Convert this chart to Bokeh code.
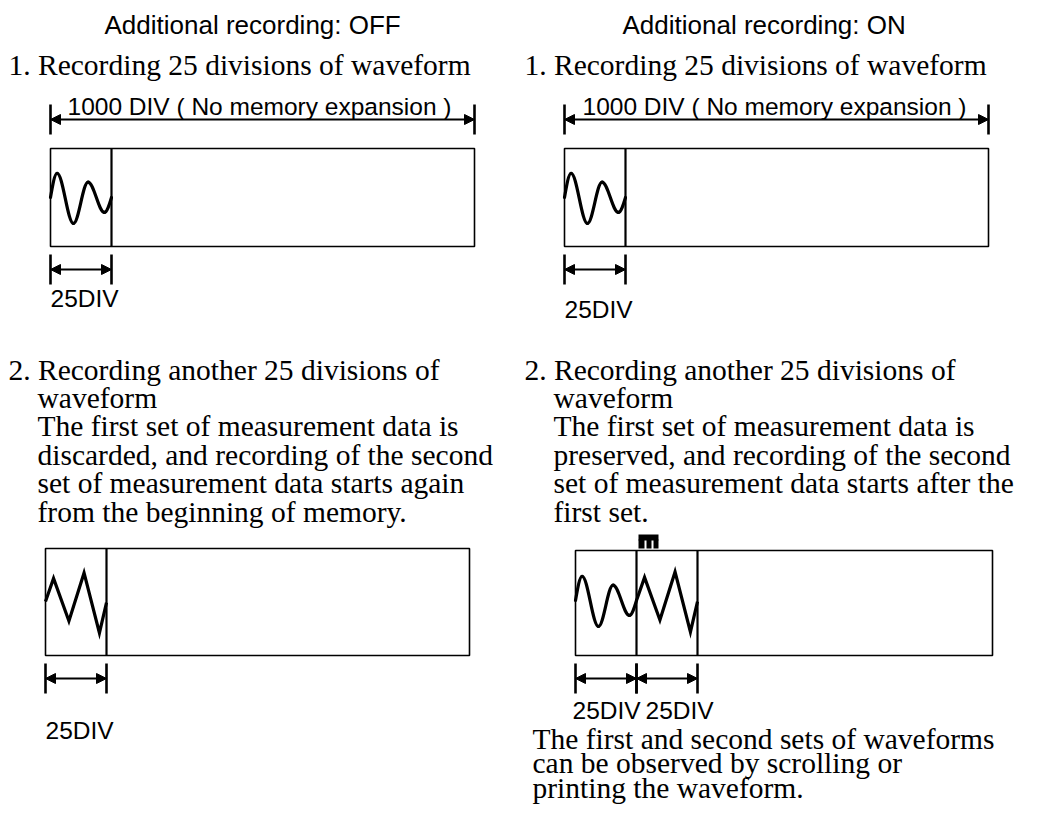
from bokeh.plotting import figure
from bokeh.models import Range1d, Arrow, NormalHead
from bokeh.core.properties import value
from bokeh.embed import file_html
from bokeh.resources import INLINE

# ---------------- data (texts and waveform shapes) ----------------
headers = ["Additional recording: OFF", "Additional recording: ON"]
step1_title = "1. Recording 25 divisions of waveform"
span_label = "1000 DIV ( No memory expansion )"
seg_label = "25DIV"
step2_title = "2. Recording another 25 divisions of"
step2_body_off = ["waveform",
                  "The first set of measurement data is",
                  "discarded, and recording of the second",
                  "set of measurement data starts again",
                  "from the beginning of memory."]
step2_body_on = ["waveform",
                 "The first set of measurement data is",
                 "preserved, and recording of the second",
                 "set of measurement data starts after the",
                 "first set."]
note_on = ["The first and second sets of waveforms",
           "can be observed by scrolling or",
           "printing the waveform."]

# waveform turning points: position inside the 25-DIV segment and amplitude
sine_div = [0, 2.7, 9.4, 15.4, 22.1, 25]
sine_amp = [0, 1.1, -1.18, 0.7, -0.68, 0]
saw_div = [0, 3.3, 9.6, 15.8, 22.1, 25]
saw_amp = [0, 1.05, -0.89, 1.3, -1.43, -0.05]
SEG_DIV = 25

# ---------------- figure in page-pixel coordinates ----------------
W, H = 1025, 805
OX, OY = 8, 8
p = figure(frame_width=W, frame_height=H, x_range=Range1d(OX, OX + W), y_range=Range1d(OY + H, OY),
           x_axis_location=None, y_axis_location=None, toolbar_location=None, title=None,
           output_backend="svg", min_border=0, outline_line_color=None)
p.grid.visible = False
p.background_fill_color = "white"
p.border_fill_color = "white"

SERIF = value("Liberation Serif")
SANS = value("Liberation Sans")
SERIF_PX = 29.5
HEAD_PX = 26
SANS_PX = 24.5
LINE = 28.4
SEG_PX = 61.0          # drawn width of one 25-DIV segment
AMP_PX = 22.0


def txt(xs, ys, texts, font, size):
    p.text(x=xs, y=ys, text=texts, text_font=font, text_font_size=value(f"{size}px"),
           text_baseline="alphabetic", text_align="left", text_color="black")


def box(x0, x1, y0, y1):
    p.quad(left=[x0], right=[x1], top=[y0], bottom=[y1], fill_color=None,
           line_color="black", line_width=1.6)


def vline(xs, y0, y1, w=2.2):
    p.segment(x0=xs, y0=[y0] * len(xs), x1=xs, y1=[y1] * len(xs),
              line_color="black", line_width=w)


def dim_arrow(xa, xb, y, half=15):
    vline([xa, xb], y - half, y + half, w=2.6)
    p.add_layout(Arrow(x_start=xa, y_start=y, x_end=xb, y_end=y, line_width=2.2,
                       line_color="black",
                       start=NormalHead(size=10, fill_color="black", line_color="black", line_width=1),
                       end=NormalHead(size=10, fill_color="black", line_color="black", line_width=1)))


def smooth_wave(x0, ymid, divs, amps):
    xs = [x0 + d / SEG_DIV * SEG_PX for d in divs]
    ys = [ymid - a * AMP_PX for a in amps]
    n = len(xs) - 1
    X0, Y0, X1, Y1, C0X, C0Y, C1X, C1Y = [], [], [], [], [], [], [], []
    for i in range(n):
        xa, ya, xb, yb = xs[i], ys[i], xs[i + 1], ys[i + 1]
        dx, dy = xb - xa, yb - ya
        if i == 0:
            c0 = (xa + 0.33 * dx, ya + 0.52 * dy)
            c1 = (xb - 0.35 * dx, yb)
        elif i == n - 1:
            c0 = (xa + 0.35 * dx, ya)
            c1 = (xb - 0.33 * dx, yb - 0.52 * dy)
        else:
            c0 = (xa + 0.36 * dx, ya)
            c1 = (xb - 0.36 * dx, yb)
        X0.append(xa); Y0.append(ya); X1.append(xb); Y1.append(yb)
        C0X.append(c0[0]); C0Y.append(c0[1]); C1X.append(c1[0]); C1Y.append(c1[1])
    p.bezier(x0=X0, y0=Y0, x1=X1, y1=Y1, cx0=C0X, cy0=C0Y, cx1=C1X, cy1=C1Y,
             line_color="black", line_width=3.2, line_cap="round")


def saw_wave(x0, ymid, divs, amps):
    xs = [x0 + d / SEG_DIV * SEG_PX for d in divs]
    ys = [ymid - a * AMP_PX for a in amps]
    p.line(xs, ys, line_color="black", line_width=3.2, line_join="miter")


# ---------------- headers and step 1 ----------------
txt([112, 630], [32, 32], headers, SANS, HEAD_PX)
txt([16, 532], [72, 72], [step1_title] * 2, SERIF, SERIF_PX)
txt([75, 590], [114, 114], [span_label] * 2, SANS, SANS_PX)

for xa, xb in [(58, 482), (572, 996)]:
    dim_arrow(xa, xb, 127)

for xl, xr in [(58, 482), (572, 996)]:
    box(xl, xr, 156, 254)
    vline([xl + SEG_PX], 156, 254)
    smooth_wave(xl, 205, sine_div, sine_amp)
    dim_arrow(xl, xl + SEG_PX, 277)

txt([58, 572], [306, 317], [seg_label] * 2, SANS, SANS_PX)

# ---------------- step 2 ----------------
txt([16, 532], [377, 377], [step2_title] * 2, SERIF, SERIF_PX)
body_y = [377 + LINE * (i + 1) for i in range(len(step2_body_off))]
txt([45] * len(step2_body_off), body_y, step2_body_off, SERIF, SERIF_PX)
txt([561] * len(step2_body_on), body_y, step2_body_on, SERIF, SERIF_PX)

# OFF: memory restarts from the beginning
box(53, 477, 556, 663)
vline([53 + SEG_PX], 556, 663)
saw_wave(53, 609, saw_div, saw_amp)
dim_arrow(53, 53 + SEG_PX, 686)
txt([53], [738], [seg_label], SANS, SANS_PX)

# ON: second set appended after the first
xr0 = 583
box(xr0, 1000, 558, 663)
vline([xr0 + SEG_PX, xr0 + 2 * SEG_PX], 558, 663)
smooth_wave(xr0, 608, sine_div, sine_amp)
saw_wave(xr0 + SEG_PX, 608, saw_div, saw_amp)
dim_arrow(xr0, xr0 + SEG_PX, 686)
dim_arrow(xr0 + SEG_PX, xr0 + 2 * SEG_PX, 686)
txt([580, 580 + 73], [718, 718], [seg_label] * 2, SANS, SANS_PX)

# boundary marker on top of the first/second set border
mx = xr0 + SEG_PX + 2
p.quad(left=[mx], right=[mx + 20], top=[542], bottom=[548], fill_color="black", line_color=None)
p.quad(left=[mx, mx + 8, mx + 15], right=[mx + 6, mx + 13, mx + 20],
       top=[547] * 3, bottom=[556] * 3, fill_color="black", line_color=None)

note_y = [746, 770.5, 795]
txt([540] * len(note_on), note_y, note_on, SERIF, SERIF_PX)

open("out.html", "w").write(file_html(p, INLINE))
